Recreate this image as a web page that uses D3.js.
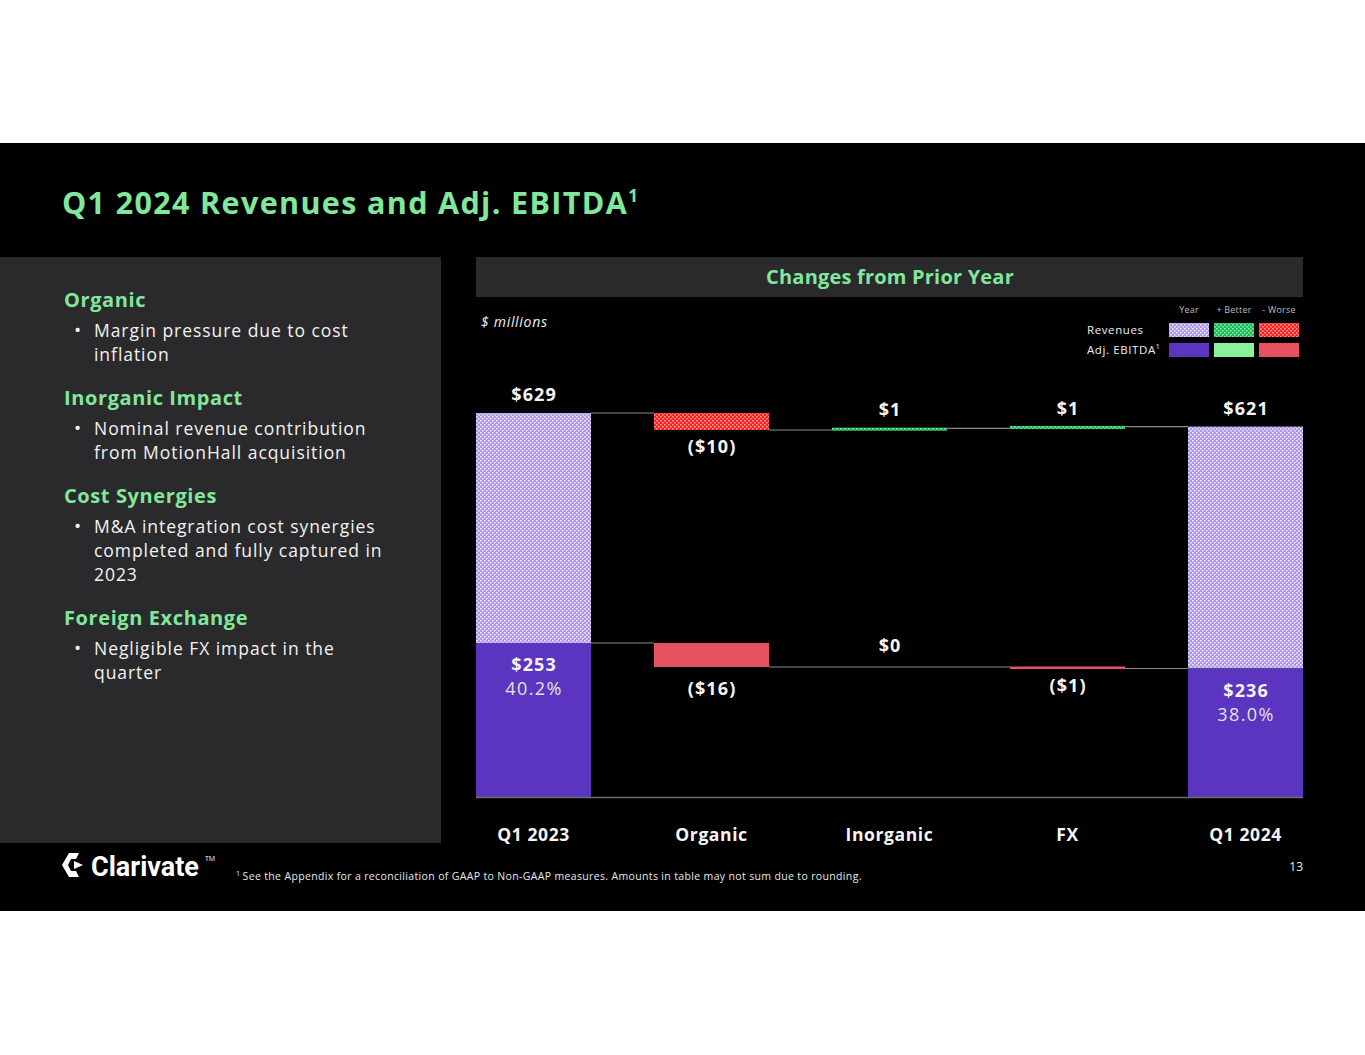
<!DOCTYPE html>
<html>
<head>
<meta charset="utf-8">
<script src="https://cdn.jsdelivr.net/npm/d3@7/dist/d3.min.js"></script>
<style>
  html, body { margin: 0; padding: 0; background: #ffffff; }
  svg { display: block; font-family: "Open Sans", Lato, sans-serif; }
</style>
</head>
<body>
<svg id="chart" width="1365" height="1055"></svg>
<script>
// ---------- data ----------
const categories = ["Q1 2023", "Organic", "Inorganic", "FX", "Q1 2024"];
const kinds = ["total", "delta", "delta", "delta", "total"];
const revenueValues = [629, -10, 1, 1, 621];
const ebitdaValues = [253, -16, 0, -1, 236];
const marginLabels = ["40.2%", null, null, null, "38.0%"];

const titleText = "Q1 2024 Revenues and Adj. EBITDA";
const chartHeader = "Changes from Prior Year";
const unitNote = "$ millions";
const legendCols = ["Year", "+ Better", "- Worse"];
const legendRows = ["Revenues", "Adj. EBITDA"];

const sideSections = [
  { head: "Organic", lines: ["Margin pressure due to cost", "inflation"] },
  { head: "Inorganic Impact", lines: ["Nominal revenue contribution", "from MotionHall acquisition"] },
  { head: "Cost Synergies", lines: ["M&A integration cost synergies", "completed and fully captured in", "2023"] },
  { head: "Foreign Exchange", lines: ["Negligible FX impact in the", "quarter"] }
];
const footnote = "See the Appendix for a reconciliation of GAAP to Non-GAAP measures. Amounts in table may not sum due to rounding.";
const pageNumber = "13";

// ---------- styling ----------
const GREEN_TXT = "#80e79b";
const PURPLE = "#5b34bf";
const GREEN_SOLID = "#8af29d";
const RED_SOLID = "#e8525e";

const svg = d3.select("#chart");
const defs = svg.append("defs");
function pattern(id, base, dot) {
  const p = defs.append("pattern").attr("id", id).attr("patternUnits", "userSpaceOnUse")
    .attr("width", 4).attr("height", 4);
  p.append("rect").attr("width", 4).attr("height", 4).attr("fill", base);
  p.append("rect").attr("x", 0).attr("y", 0).attr("width", 1.6).attr("height", 1.6).attr("fill", dot);
  p.append("rect").attr("x", 2).attr("y", 2).attr("width", 1.6).attr("height", 1.6).attr("fill", dot);
}
pattern("patYear", "#ad97e6", "#ece5ff");
pattern("patGreen", "#1fb85c", "#7fefa6");
pattern("patRed", "#ff1e1e", "#ff9a9a");

// ---------- slide background ----------
svg.append("rect").attr("x", 0).attr("y", 143).attr("width", 1365).attr("height", 768).attr("fill", "#000");

// title
const title = svg.append("text").attr("x", 62).attr("y", 214)
  .attr("fill", GREEN_TXT).attr("font-size", 30.5).attr("font-weight", 700).attr("letter-spacing", 1.35).text(titleText);
title.append("tspan").attr("font-size", 17).attr("dy", -12).attr("letter-spacing", 0).text("1");

// left panel
svg.append("rect").attr("x", 0).attr("y", 257).attr("width", 441).attr("height", 586).attr("fill", "#2a2a2c");
let yCur = 307;
sideSections.forEach(s => {
  svg.append("text").attr("x", 64).attr("y", yCur).attr("fill", GREEN_TXT)
    .attr("font-size", 20).attr("font-weight", 700).attr("letter-spacing", 0.6).text(s.head);
  yCur += 30;
  s.lines.forEach((ln, i) => {
    if (i === 0) svg.append("text").attr("x", 74).attr("y", yCur).attr("fill", "#f2f2f2")
      .attr("font-size", 19).text("•");
    svg.append("text").attr("x", 94).attr("y", yCur).attr("fill", "#f2f2f2")
      .attr("font-size", 17.5).attr("letter-spacing", 0.95).text(ln);
    yCur += 24;
  });
  yCur += 20;
});

// chart header bar
svg.append("rect").attr("x", 476).attr("y", 257).attr("width", 827).attr("height", 40).attr("fill", "#2a2a2c");
svg.append("text").attr("x", 890).attr("y", 284).attr("text-anchor", "middle")
  .attr("fill", GREEN_TXT).attr("font-size", 20).attr("font-weight", 700).attr("letter-spacing", 0.2).text(chartHeader);

svg.append("text").attr("x", 481).attr("y", 327).attr("fill", "#f0f0f0")
  .attr("font-size", 14).attr("font-style", "italic").attr("letter-spacing", 0.7).text(unitNote);

// legend
const legX = [1169, 1214, 1259];
legendCols.forEach((c, i) => {
  svg.append("text").attr("x", legX[i] + 20).attr("y", 313).attr("text-anchor", "middle")
    .attr("fill", "#bdbdbd").attr("font-size", 9).attr("letter-spacing", 0.2).text(c);
});
const legFills = [["url(#patYear)", "url(#patGreen)", "url(#patRed)"], [PURPLE, GREEN_SOLID, RED_SOLID]];
const legY = [323, 343];
legendRows.forEach((r, j) => {
  const t = svg.append("text").attr("x", 1087).attr("y", legY[j] + 11).attr("fill", "#f0f0f0")
    .attr("font-size", 11.5).attr("letter-spacing", 0.6).text(r);
  if (j === 1) t.append("tspan").attr("font-size", 7).attr("dy", -5).text("1");
  legX.forEach((x, i) => {
    svg.append("rect").attr("x", x).attr("y", legY[j]).attr("width", 40).attr("height", 14)
      .attr("fill", legFills[j][i]);
  });
});

// ---------- scales ----------
const x = d3.scaleBand().domain(categories).range([476, 1303]).paddingInner(0.354).paddingOuter(0);
// broken (piecewise) value axis: compressed gap between EBITDA and revenue ranges
const y = d3.scaleLinear().domain([0, 200, 260, 580, 640]).range([797, 722.5, 632.5, 496.3, 394.3]);

// waterfall computation
function waterfall(vals) {
  let run = 0;
  return vals.map((v, i) => {
    if (kinds[i] === "total") { run = v; return { i, v, start: 0, end: v, total: true }; }
    const s = run; run += v; return { i, v, start: s, end: run, total: false };
  });
}
const rev = waterfall(revenueValues);
const ebi = waterfall(ebitdaValues);
const fmt = v => v < 0 ? "($" + Math.abs(v) + ")" : "$" + v;

const g = svg.append("g");
const bw = x.bandwidth();
const LABEL = { fill: "#f5f5f5", size: 18, ls: 1.1 };

function label(xc, yb, txt, weight, color) {
  return g.append("text").attr("x", xc + LABEL.ls / 2).attr("y", yb).attr("text-anchor", "middle")
    .attr("fill", color || LABEL.fill).attr("font-size", LABEL.size).attr("font-weight", weight)
    .attr("letter-spacing", weight >= 600 ? LABEL.ls : LABEL.ls + 0.3).text(txt);
}

// connector lines (continue across bars with zero change)
function connectors(data) {
  for (let k = 0; k < data.length - 1; k++) {
    const level = data[k].end;
    const k2 = k + 1;
    if (!data[k2].total && data[k2].v === 0) continue;
    let kStart = k;
    while (kStart > 0 && !data[kStart].total && data[kStart].v === 0) kStart--;
    g.append("line").attr("x1", x(categories[kStart]) + bw).attr("x2", x(categories[k2]))
      .attr("y1", y(level)).attr("y2", y(level)).attr("stroke", "#8a8a8a").attr("stroke-width", 1.2);
  }
}
connectors(rev);
connectors(ebi);

// revenue bars (totals stacked on top of EBITDA)
rev.forEach(d => {
  let y0, y1, fill;
  if (d.total) { y0 = y(d.v); y1 = y(ebi[d.i].v); fill = "url(#patYear)"; }
  else {
    y0 = y(Math.max(d.start, d.end)); y1 = y(Math.min(d.start, d.end));
    fill = d.v >= 0 ? "url(#patGreen)" : "url(#patRed)";
  }
  const h = Math.max(y1 - y0, 3);
  if (d.v === 0 && !d.total) return;
  g.append("rect").attr("x", x(categories[d.i])).attr("y", d.total ? y0 : (y0 + y1) / 2 - h / 2)
    .attr("width", bw).attr("height", h).attr("fill", fill);
  const cx = x(categories[d.i]) + bw / 2;
  const below = !d.total && d.v < 0;
  label(cx, below ? y1 + 23 : y0 - 12, fmt(d.v), 700);
});

// EBITDA bars
ebi.forEach(d => {
  const cx = x(categories[d.i]) + bw / 2;
  if (d.total) {
    g.append("rect").attr("x", x(categories[d.i])).attr("y", y(d.v)).attr("width", bw)
      .attr("height", y(0) - y(d.v)).attr("fill", PURPLE);
    label(cx, y(d.v) + 28, fmt(d.v), 700);
    label(cx, y(d.v) + 52, marginLabels[d.i], 400, "#e2e2e2");
    return;
  }
  const y0 = y(Math.max(d.start, d.end)), y1 = y(Math.min(d.start, d.end));
  if (d.v !== 0) {
    const h = Math.max(y1 - y0, 2.5);
    g.append("rect").attr("x", x(categories[d.i])).attr("y", (y0 + y1) / 2 - h / 2).attr("width", bw)
      .attr("height", h).attr("fill", d.v > 0 ? GREEN_SOLID : RED_SOLID);
  }
  const below = d.v < 0;
  label(cx, below ? y1 + (y1 - y0 > 5 ? 28 : 23) : y0 - 15, fmt(d.v), 700);
});

// baseline axis
g.append("line").attr("x1", 476).attr("x2", 1303).attr("y1", y(0) + 0.5).attr("y2", y(0) + 0.5)
  .attr("stroke", "#6e6e6e").attr("stroke-width", 1.5);

// category axis
const xAxis = g.append("g").attr("transform", `translate(0,${y(0)})`)
  .call(d3.axisBottom(x).tickSize(0).tickPadding(32));
xAxis.select(".domain").remove();
xAxis.selectAll("text").attr("fill", "#f5f5f5").attr("font-size", 17.5).attr("font-weight", 700)
  .attr("letter-spacing", 0.6).attr("font-family", "'Open Sans', sans-serif");

// ---------- footer ----------
const logo = svg.append("g").attr("transform", "translate(62,853)");
logo.append("path").attr("fill", "#fff")
  .attr("d", "M7,0 L17,0 L14,6 L9,6 L6,12 L9,18 L14,18 L17,24 L7,24 L0,12 Z M12,8 L21,12 L12,16 Z");
logo.append("text").attr("x", 29).attr("y", 23).attr("fill", "#fff").attr("font-size", 27)
  .attr("font-weight", 700).attr("font-family", "Roboto, Lato, sans-serif").text("Clarivate");
logo.append("text").attr("x", 143).attr("y", 8).attr("fill", "#fff").attr("font-size", 7).text("TM");

const fn = svg.append("text").attr("x", 236).attr("y", 880).attr("fill", "#e8e8e8").attr("font-size", 10.5)
  .attr("letter-spacing", 0.35);
fn.append("tspan").attr("font-size", 7).attr("dy", -4).text("1 ");
fn.append("tspan").attr("dy", 4).text(footnote);

svg.append("text").attr("x", 1303).attr("y", 871).attr("text-anchor", "end").attr("fill", "#e8e8e8")
  .attr("font-size", 12).text(pageNumber);
</script>
</body>
</html>
